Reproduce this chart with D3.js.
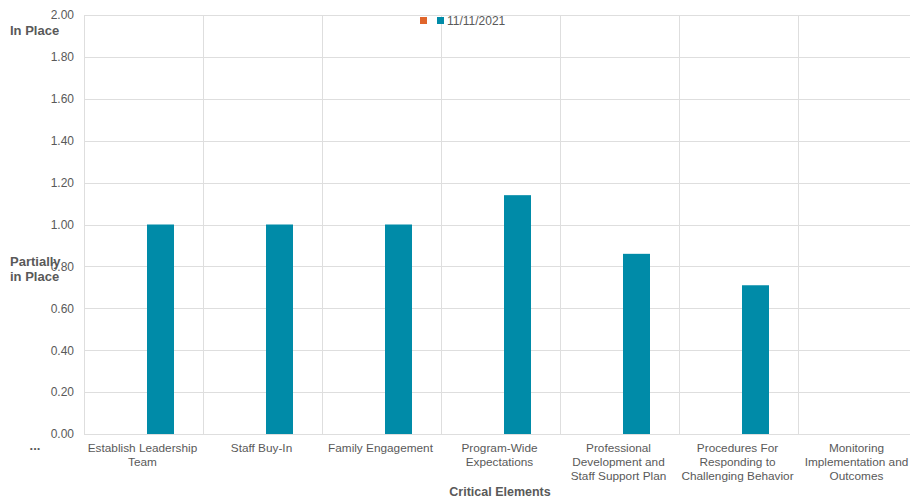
<!DOCTYPE html>
<html>
<head>
<meta charset="utf-8">
<script src="https://cdn.jsdelivr.net/npm/d3@7"></script>
<style>
  html, body { margin: 0; padding: 0; background: #ffffff; }
  svg { display: block; font-family: "Liberation Sans", Arial, sans-serif; }
</style>
</head>
<body>
<svg id="chart" width="910" height="499"></svg>
<script>
// Critical elements along the x axis (label lines separated by "|")
const categories = [
  "Establish Leadership|Team",
  "Staff Buy-In",
  "Family Engagement",
  "Program-Wide|Expectations",
  "Professional|Development and|Staff Support Plan",
  "Procedures For|Responding to|Challenging Behavior",
  "Monitoring|Implementation and|Outcomes"
];

// Two series: an unnamed baseline series (no values) and the 11/11/2021 assessment
const seriesNames = ["", "11/11/2021"];
const seriesBaseline = [null, null, null, null, null, null, null];
const seriesAssessment = [1.00, 1.00, 1.00, 1.14, 0.86, 0.71, 0.00];
const seriesColors = ["#e0652b", "#008ba8"];

const yTicks = [0, 0.2, 0.4, 0.6, 0.8, 1.0, 1.2, 1.4, 1.6, 1.8, 2.0];

const svg = d3.select("#chart");
const margin = { left: 84, right: 917, top: 15, bottom: 434 };

const x = d3.scaleBand().domain(categories).range([margin.left, margin.right]).paddingInner(0).paddingOuter(0);
const x1 = d3.scaleBand().domain(seriesNames).range([-30.5, 30.5]).paddingInner(0.206).paddingOuter(0);
const y = d3.scaleLinear().domain([0, 2]).range([margin.bottom, margin.top]);

const gridColor = "#dedede";
const textColor = "#595959";

// Horizontal gridlines
svg.append("g")
  .selectAll("line")
  .data(yTicks)
  .join("line")
  .attr("x1", margin.left).attr("x2", margin.right)
  .attr("y1", d => Math.round(y(d)) + 0.5).attr("y2", d => Math.round(y(d)) + 0.5)
  .attr("stroke", gridColor).attr("stroke-width", 1);

// Vertical category separators
svg.append("g")
  .selectAll("line")
  .data(categories)
  .join("line")
  .attr("x1", d => Math.round(x(d)) + 0.5).attr("x2", d => Math.round(x(d)) + 0.5)
  .attr("y1", margin.top).attr("y2", margin.bottom)
  .attr("stroke", gridColor).attr("stroke-width", 1);

// Y axis tick labels
const yAxis = d3.axisLeft(y).tickValues(yTicks).tickFormat(d3.format(".2f")).tickSize(0).tickPadding(0);
const yg = svg.append("g").attr("transform", "translate(74,0)").call(yAxis);
yg.select(".domain").remove();
yg.selectAll("text").attr("fill", textColor).attr("font-size", 12).attr("font-family", "Liberation Sans, Arial, sans-serif");

// Bars
const seriesData = [seriesBaseline, seriesAssessment];
seriesData.forEach((vals, si) => {
  svg.append("g")
    .selectAll("rect")
    .data(vals.map((v, i) => ({ cat: categories[i], v })).filter(d => d.v !== null && d.v > 0))
    .join("rect")
    .attr("x", d => x(d.cat) + x.bandwidth() / 2 + x1(seriesNames[si]))
    .attr("width", x1.bandwidth())
    .attr("y", d => y(d.v))
    .attr("height", d => y(0) - y(d.v))
    .attr("fill", seriesColors[si]);
});

// X axis category labels
const xg = svg.append("g");
categories.forEach(c => {
  const lines = c.split("|");
  const cx = x(c) + x.bandwidth() / 2 - 1;
  const t = xg.append("text")
    .attr("x", cx)
    .attr("y", 452)
    .attr("text-anchor", "middle")
    .attr("fill", textColor)
    .attr("font-size", 11.8);
  lines.forEach((ln, i) => {
    t.append("tspan").attr("x", cx).attr("dy", i === 0 ? 0 : 14).text(ln);
  });
});

// Ellipsis under the y axis
svg.append("text").attr("x", 35).attr("y", 450).attr("text-anchor", "middle")
  .attr("fill", textColor).attr("font-size", 13).attr("font-weight", "bold").text("...");

// Rating annotations on the y axis
svg.append("text").attr("x", 10).attr("y", 35).attr("fill", textColor)
  .attr("font-size", 13).attr("font-weight", "bold").text("In Place");
const partial = svg.append("text").attr("x", 10).attr("y", 266).attr("fill", textColor)
  .attr("font-size", 13).attr("font-weight", "bold");
partial.append("tspan").attr("x", 10).attr("dy", 0).text("Partially");
partial.append("tspan").attr("x", 10).attr("dy", 15).text("in Place");

// X axis title
svg.append("text").attr("x", 500).attr("y", 496).attr("text-anchor", "middle")
  .attr("fill", textColor).attr("font-size", 12.5).attr("font-weight", "bold").text("Critical Elements");

// Legend
const legend = svg.append("g");
const legendX = [420, 437];
seriesNames.forEach((name, i) => {
  legend.append("rect").attr("x", legendX[i]).attr("y", 17).attr("width", 7).attr("height", 7).attr("fill", seriesColors[i]);
  if (name) {
    legend.append("text").attr("x", legendX[i] + 10).attr("y", 25)
      .attr("fill", textColor).attr("font-size", 12).text(name);
  }
});
</script>
</body>
</html>
